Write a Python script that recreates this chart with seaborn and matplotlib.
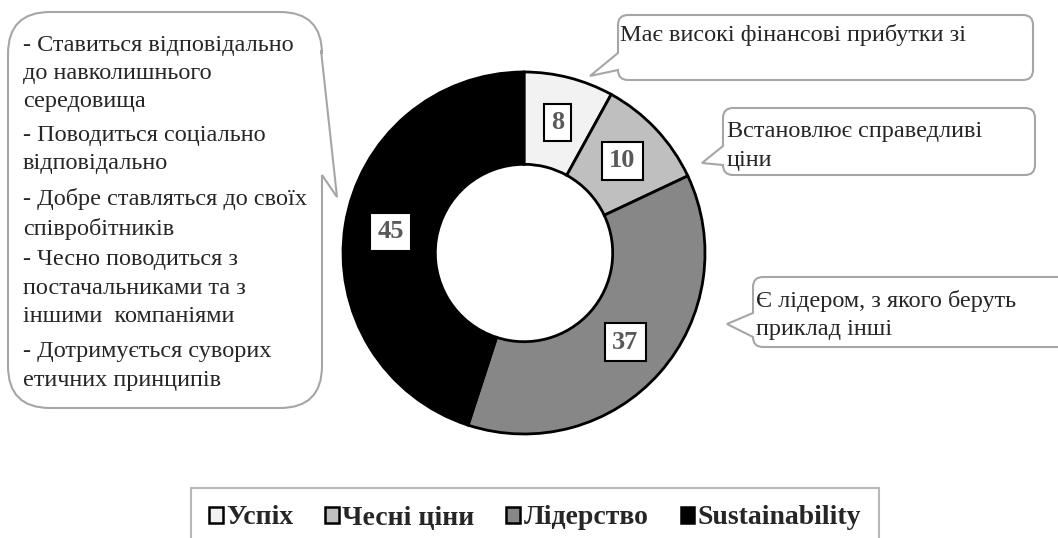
import numpy as np
import matplotlib
matplotlib.use("Agg")
import matplotlib.pyplot as plt
import seaborn as sns
from matplotlib.path import Path
from matplotlib.patches import PathPatch, Patch

# Data
categories = ["Успіх", "Чесні ціни", "Лідерство", "Sustainability"]
values = [8, 10, 37, 45]
colors = ["#f2f2f2", "#bfbfbf", "#878787", "#000000"]

left_note = ["- Ставиться відповідально\nдо навколишнього\nсередовища",
             "- Поводиться соціально\nвідповідально",
             "- Добре ставляться до своїх\nспівробітників",
             "- Чесно поводиться з\nпостачальниками та з\nіншими  компаніями",
             "- Дотримується суворих\nетичних принципів"]
note_success = "Має високі фінансові прибутки зі"
note_prices = "Встановлює справедливі\nціни"
note_leader = "Є лідером, з якого беруть\nприклад інші"

W, H = 1058, 538
FS = 17.5          # callout text size
OFF = 8.5          # px from text top to first line centre

sns.set_theme(style="white")
plt.rcParams['font.family'] = ['Liberation Serif', 'DejaVu Serif']

fig = plt.figure(figsize=(W / 100, H / 100), dpi=100)
ax = fig.add_axes([0, 0, 1, 1])


def Y(py):
    return H - py


def callout(x0, y0, x1, y1, r, side, b1, tip, b2):
    """Rounded box with a pointed tail, pixel coords (y down)."""
    pts, codes = [], []

    def mv(p):
        pts.append(p); codes.append(Path.MOVETO)

    def ln(p):
        pts.append(p); codes.append(Path.LINETO)

    def cv(c, p):
        pts.extend([c, p]); codes.extend([Path.CURVE3, Path.CURVE3])

    mv((x0 + r, y0))
    ln((x1 - r, y0)); cv((x1, y0), (x1, y0 + r))
    if side == "right":
        ln(b1); ln(tip); ln(b2)
    ln((x1, y1 - r)); cv((x1, y1), (x1 - r, y1))
    ln((x0 + r, y1)); cv((x0, y1), (x0, y1 - r))
    if side == "left":
        ln(b2); ln(tip); ln(b1)
    ln((x0, y0 + r)); cv((x0, y0), (x0 + r, y0))
    pts.append((x0 + r, y0)); codes.append(Path.CLOSEPOLY)
    pts = [(x, Y(y)) for x, y in pts]
    ax.add_patch(PathPatch(Path(pts, codes), facecolor="white",
                           edgecolor="#a6a6a6", lw=1.5, zorder=1))


def note(x, y, txt):
    ax.text(x, Y(y - OFF), txt, ha="left", va="top", fontsize=FS,
            linespacing=1.44, zorder=3)


# donut
cx, cy, R = 524, 253, 181
wedges, _ = ax.pie(values, colors=colors, startangle=90, counterclock=False,
                   center=(cx, Y(cy)), radius=R,
                   wedgeprops=dict(width=R * 0.51, edgecolor="black", linewidth=2))
for w, v in zip(wedges, values):
    ang = np.deg2rad((w.theta1 + w.theta2) / 2)
    ax.text(cx + 0.745 * R * np.cos(ang), Y(cy) + 0.745 * R * np.sin(ang), str(v),
            ha="center", va="center", fontsize=19, fontweight="bold", color="#595959",
            bbox=dict(boxstyle="square,pad=0.28", fc="white", ec="black", lw=1.5), zorder=5)

# callouts
callout(8, 12, 322, 408, 42, "right", (321, 50), (337, 197), (322, 175))
for txt, y in zip(left_note, [43, 133, 197, 258, 350]):
    note(23, y, txt)

callout(618, 15, 1033, 80, 10, "left", (618, 53), (590, 76), (618, 70))
note(620, 33, note_success)

callout(723, 108, 1035, 175, 10, "left", (723, 146), (702, 163), (723, 165))
note(727, 130, note_prices)

callout(753, 277, 1075, 347, 10, "left", (753, 313), (727, 324), (753, 337))
note(756, 298, note_leader)

# legend
handles = [Patch(facecolor=c, edgecolor="black", lw=1.8) for c in colors]
leg = ax.legend(handles, categories, loc="upper center", ncol=4,
                bbox_to_anchor=(535 / W, 1 - 488 / H), frameon=True, fancybox=False,
                prop=dict(family="Liberation Serif", weight="bold", size=20),
                handlelength=0.5, handleheight=0.5, handletextpad=0.12,
                columnspacing=1.15, borderpad=0.63, borderaxespad=0)
leg.get_frame().set_edgecolor("#a6a6a6")
leg.get_frame().set_linewidth(1.5)

ax.set_xlim(0, W)
ax.set_ylim(0, H)
ax.set_aspect("auto")
ax.axis("off")

fig.savefig("out.png", dpi=100)
